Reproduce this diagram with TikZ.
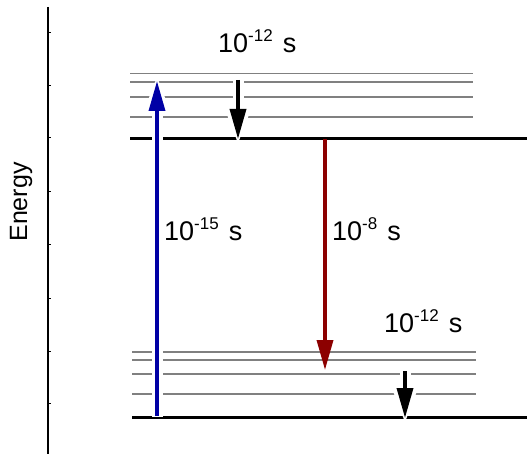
\documentclass[tikz,border=0pt]{standalone}
\usepackage{fontspec}
\setmainfont{Liberation Sans}
\usetikzlibrary{arrows.meta}
\definecolor{pumpblue}{RGB}{0,0,165}
\definecolor{emitred}{RGB}{140,0,0}
\newcommand{\expo}[1]{\raisebox{11pt}{\fontsize{17}{17}\selectfont #1}\hspace{10pt}}
\tikzset{
  level/.style={line width=3pt},
  sublevel/.style={gray, line width=1.4pt},
  trans/.style={line width=3.5pt, -{Triangle[length=30pt,width=16pt]}},
  halo/.style={preaction={draw=white, line width=11pt, shorten >=-4pt, shorten <=-1pt,
      -{Triangle[length=36pt,width=28pt,line width=0pt]}}},
  lbl/.style={anchor=base west, inner sep=0pt, font=\fontsize{27}{30}\selectfont}
}
\begin{document}
\begin{tikzpicture}[x=1pt, y=-1pt]
    \useasboundingbox (0,0) rectangle (527,454);

    % Axis
    \draw[line width=2pt] (48,7) -- (48,454);
    \foreach \t in {33,86,138,192,245,298,351,403}
        \draw[line width=1pt] (48,\t) -- (51,\t);
    \node[rotate=90, font=\fontsize{25}{30}\selectfont] (energy) at (21,202) {Energy};

    % Levels
    \foreach \y in {73.5,82,97,117}
        \draw[sublevel] (130,\y) -- (473,\y);
    \foreach \y in {352,360,374,394}
        \draw[sublevel] (132,\y) -- (476,\y);
    \draw[level] (130,139) -- (527,139);
    \draw[level] (132,417.5) -- (527,417.5);

    % Nodes
    \coordinate (pumpA) at (157,415.5);
    \coordinate (pumpB) at (157,81);
    \coordinate (relaxA) at (238,80);
    \coordinate (relaxB) at (238,139);
    \coordinate (emitA) at (325,139);
    \coordinate (emitB) at (325,370);
    \coordinate (dropA) at (405,371);
    \coordinate (dropB) at (405,418);

    % Edges
    \draw[trans, halo, pumpblue] (pumpA) -- (pumpB);
    \draw[trans, halo, black] (relaxA) -- (relaxB);
    \draw[trans, emitred] (emitA) -- (emitB);
    \draw[trans, halo, black] (dropA) -- (dropB);

    % Labels
    \node[lbl] (tauvib) at (218,53) {10\expo{-12}s};
    \node[lbl] (tauabs) at (164,241) {10\expo{-15}s};
    \node[lbl] (taufl) at (332,241) {10\expo{-8}s};
    \node[lbl] (tauvibg) at (384,332) {10\expo{-12}s};
\end{tikzpicture}
\end{document}
